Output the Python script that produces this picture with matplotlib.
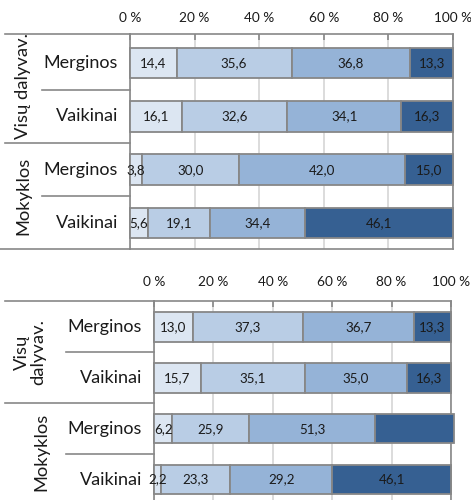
import matplotlib
matplotlib.use("Agg")
import matplotlib.pyplot as plt

plt.rcParams['font.family'] = ['Lato', 'DejaVu Sans']

# ---- data ----
categories = ["Merginos", "Vaikinai", "Merginos", "Vaikinai"]
groups_top = ["Visų dalyvav.", "Mokyklos"]
groups_bottom = ["Visų\ndalyvav.", "Mokyklos"]
tick_values = [0, 20, 40, 60, 80, 100]
tick_labels = ["0 %", "20 %", "40 %", "60 %", "80 %", "100 %"]

# segment widths as drawn (percent), per row, 4 segments each
top_widths = [
    [14.4, 35.6, 36.8, 13.2],
    [16.1, 32.6, 35.2, 16.1],
    [3.8, 30.0, 51.4, 14.8],
    [5.6, 19.1, 29.5, 45.8],
]
top_labels = [
    [14.4, 35.6, 36.8, 13.3],
    [16.1, 32.6, 34.1, 16.3],
    [3.8, 30.0, 42.0, 15.0],
    [5.6, 19.1, 34.4, 46.1],
]
bottom_widths = [
    [13.0, 37.3, 37.1, 12.6],
    [15.7, 35.1, 34.3, 14.9],
    [6.2, 25.9, 42.3, 26.6],
    [2.2, 23.3, 34.6, 39.9],
]
bottom_labels = [
    [13.0, 37.3, 36.7, 13.3],
    [15.7, 35.1, 35.0, 16.3],
    [6.2, 25.9, 51.3, None],
    [2.2, 23.3, 29.2, 46.1],
]

colors = ["#dce6f2", "#b9cde5", "#95b3d7", "#366092"]
edge = "#878787"
W, H = 471, 500

fig = plt.figure(figsize=(W / 100, H / 100), dpi=100)


def panel(rect_px, ylim, bar_h, widths, labels, groups, cfg):
    left, right, top, bottom = rect_px
    ax = fig.add_axes([left / W, 1 - bottom / H, (right - left) / W, (bottom - top) / H])
    ax.set_xlim(0, 100)
    ax.set_ylim(ylim[1], ylim[0])
    for i, (row_w, row_l) in enumerate(zip(widths, labels)):
        start = 0
        for j, (w, lab) in enumerate(zip(row_w, row_l)):
            ax.barh(i, w, left=start, height=bar_h, color=colors[j], edgecolor=edge,
                    linewidth=1.3, zorder=3, clip_on=False)
            if lab is not None:
                ax.text(start + w / 2, i, f"{lab:.1f}".replace(".", ","), ha="center",
                        va="center", fontsize=9.6, color="#1a1a1a", zorder=4)
            start += w
    ax.xaxis.tick_top()
    ax.set_xticks(tick_values)
    ax.set_xticklabels(tick_labels)
    ax.tick_params(axis="x", direction="in", length=4, width=1.2, color="#888888",
                   labelsize=9.8, pad=cfg["pad"], labelcolor="#1a1a1a")
    ax.set_yticks([])
    ax.grid(axis="x", color="#d9d9d9", linewidth=1.3, zorder=0)
    for s in ax.spines.values():
        s.set_color("#888888")
        s.set_linewidth(1.2)
    tr = ax.get_yaxis_transform()
    # category labels
    for i, c in enumerate(categories):
        ax.text(cfg["cat_x"], i, c, transform=tr, ha="right", va="center",
                fontsize=13, color="#1a1a1a")
    # group labels
    for gi, g in enumerate(groups):
        ax.text(cfg["grp_x"][gi], cfg["grp_y"][gi], g, transform=tr, ha="center",
                va="center", rotation=90, fontsize=13.2, color="#1a1a1a",
                linespacing=1.0)
    # separator lines
    lkw = dict(transform=tr, color="#888888", linewidth=1.2, clip_on=False)
    ax.plot([cfg["outer_x"], 0], [ylim[0], ylim[0]], **lkw)
    ax.plot([cfg["outer_x"], 0], [1.5, 1.5], **lkw)
    ax.plot([cfg["inner_x"], 0], [0.5, 0.5], **lkw)
    ax.plot([cfg["inner_x"], 0], [2.5, 2.5], **lkw)
    if cfg.get("bottom_x") is not None:
        ax.plot([cfg["bottom_x"], 0], [ylim[1], ylim[1]], **lkw)
    return ax


panel((130, 453, 34, 249), (-0.544, 3.4875), 0.58, top_widths, top_labels, groups_top,
      dict(pad=7, cat_x=-0.037, grp_x=[-0.331, -0.331], grp_y=[0.44, 2.49],
           outer_x=-0.387, inner_x=-0.272, bottom_x=-0.4025))

panel((154, 451, 301, 503), (-0.5115, 3.462), 0.577, bottom_widths, bottom_labels,
      groups_bottom,
      dict(pad=9, cat_x=-0.040, grp_x=[-0.4175, -0.380], grp_y=[0.49, 2.45],
           outer_x=-0.5017, inner_x=-0.296, bottom_x=None))

fig.savefig("out.png", dpi=100)
